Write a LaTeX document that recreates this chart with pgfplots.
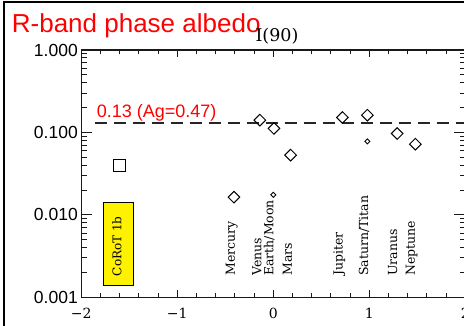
\documentclass[border=0pt]{standalone}
\usepackage{pgfplots}
\pgfplotsset{compat=1.18}
\usepackage{fontspec}
\newfontfamily\sans{Liberation Sans}
\newfontfamily\lab{DejaVu Serif}

% Phase albedo at 90 deg for solar-system bodies and CoRoT-1b
\pgfplotstableread{
x      y
-0.41  0.0164
-0.14  0.141
0.007  0.112
0.18   0.053
0.72   0.152
0.98   0.162
1.29   0.097
1.48   0.072
}\planets
\pgfplotstableread{
x      y
0.0    0.0175
0.98   0.078
}\moons
\pgfplotstableread{
x      y
-1.60  0.0392
}\corot

\tikzset{plab/.style={rotate=90, anchor=west, inner sep=0,
  font=\lab\fontsize{12.5}{12.5}\selectfont}}

\begin{document}
\begin{tikzpicture}[x=1pt,y=1pt]
% outer frame
\draw[line width=2pt] (4,-5) -- (4,323.5) -- (470,323.5);
\node[anchor=base west, inner sep=0, text=red, font=\sans\fontsize{26}{26}\selectfont]
  at (11.7,292.7) {R-band phase albedo};
\node[inner sep=0, font=\lab\fontsize{17.5}{17.5}\selectfont] at (277,288.3) {I(90)};
\node[anchor=base west, inner sep=0, text=red, font=\sans\fontsize{18}{18}\selectfont]
  at (96.7,207.7) {0.13 (Ag=0.47)};
\begin{axis}[
  at={(81.3pt,27.7pt)}, anchor=south west,
  scale only axis, width=384pt, height=247.3pt,
  xmin=-2, xmax=2, ymode=log, ymin=0.001, ymax=1,
  xtick={-2,-1,0,1,2}, minor x tick num=4,
  xticklabels={−2,−1,0,1,2},
  ytick={0.001,0.01,0.1,1}, yticklabels={0.001,0.010,0.100,1.000},
  yticklabel style={font=\sans\fontsize{17.5}{18}\selectfont},
  xticklabel style={font=\lab\fontsize{14}{14}\selectfont, yshift=-7pt},
  axis line style={black!90, line width=1.3pt},
  tick style={black!90, line width=1pt},
  major tick length=11pt, minor tick length=5.5pt,
  major x tick style={/pgfplots/major tick length=7pt},
  minor x tick style={/pgfplots/minor tick length=4pt},
  clip=false,
]
\addplot[black!85, line width=1.1pt, dash pattern=on 12.5pt off 6.5pt]
  coordinates {(-1.86,0.13) (2,0.13)};
\addplot[only marks, mark=square, mark size=4.1pt,
  mark options={rotate=45, line width=1pt, black}] table {\planets};
\addplot[only marks, mark=square, mark size=1.8pt,
  mark options={rotate=45, line width=0.9pt, black}] table {\moons};
\addplot[only marks, mark=square, mark size=6pt,
  mark options={line width=1pt, black}] table {\corot};

\draw[fill=yellow, line width=0.8pt] (axis cs:-1.771,0.00141) rectangle (axis cs:-1.458,0.01426);
\node[rotate=90, inner sep=0, font=\lab\fontsize{12}{12}\selectfont]
  at (axis cs:-1.63,0.004166) {CoRoT 1b};

\node[plab] at (axis cs:-0.433,0.001815) {Mercury};
\node[plab] at (axis cs:-0.172,0.001815) {Venus};
\node[plab] at (axis cs:-0.042,0.001815) {Earth/Moon};
\node[plab] at (axis cs:0.146,0.001815) {Mars};
\node[plab] at (axis cs:0.6875,0.001815) {Jupiter};
\node[plab] at (axis cs:0.945,0.001815) {Saturn/Titan};
\node[plab] at (axis cs:1.243,0.001815) {Uranus};
\node[plab] at (axis cs:1.441,0.001815) {Neptune};
\end{axis}
\pgfresetboundingbox
\path[use as bounding box] (0,0) rectangle (464,325);
\end{tikzpicture}
\end{document}
